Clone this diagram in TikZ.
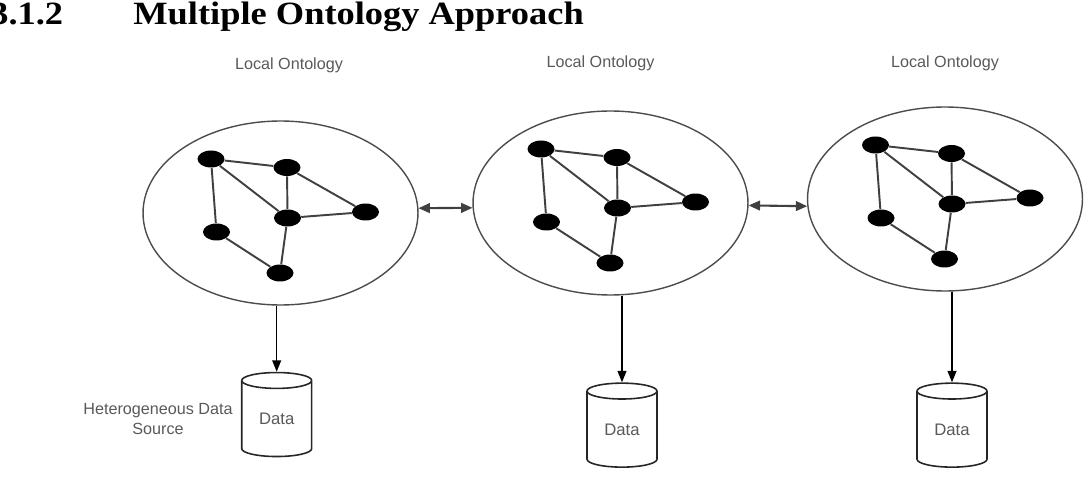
\documentclass[tikz,border=0pt]{standalone}
\usepackage{fontspec}
\setmainfont{Liberation Serif}
\setsansfont{Liberation Sans}
\usepackage{tikz}
\usetikzlibrary{arrows.meta,calc,positioning,shapes.geometric}

\begin{document}
\begin{tikzpicture}[x=0.02cm,y=-0.02cm,
  onto/.style={ellipse,draw=black!70,line width=0.8pt,minimum width=5.5cm,minimum height=3.68cm,inner sep=0pt},
  cnode/.style={ellipse,fill=black,minimum width=0.54cm,minimum height=0.34cm,inner sep=0pt},
  cedge/.style={draw=black!75,line width=1.1pt},
  dbase/.style={cylinder,shape border rotate=90,aspect=0.45,draw=black!85,line width=0.9pt,minimum width=1.4cm,minimum height=1.68cm,inner sep=0pt,font=\sffamily\fontsize{9.5}{11}\selectfont,text=black!65},
  lbl/.style={font=\sffamily\fontsize{9.2}{11.4}\selectfont,text=black!65,inner sep=0pt},
  head/.style={font=\bfseries\fontsize{18.5}{20}\selectfont,anchor=base west,inner sep=0pt},
  link/.style={draw=black,line width=0.9pt,-{Triangle[length=6.5pt,width=5pt]}},
  twoway/.style={draw=black!75,line width=1.2pt,{Triangle[length=6.5pt,width=5.5pt]}-{Triangle[length=6.5pt,width=5.5pt]}}]
  \useasboundingbox (0,0) rectangle (1089,486);
  \node[head] (secno) at (-10,25) {\scalebox{1.12}[1]{3.1.2}};
  \node[head] (sectitle) at (133,25) {\scalebox{1.12}[1]{Multiple Ontology Approach}};
  \foreach \i/\cx/\cy/\lx/\ly in {1/280.5/213/289/65, 2/610.5/203/600.5/63, 3/945/199/945/63} {
    \node[lbl] (lo\i) at (\lx,\ly) {Local Ontology};
    \node[onto] (o\i) at (\cx,\cy) {};
    \node[cnode] (c\i-a) at (\cx-69.5,\cy-54) {};
    \node[cnode] (c\i-b) at (\cx+6.5,\cy-45.5) {};
    \node[cnode] (c\i-c) at (\cx+7,\cy+5) {};
    \node[cnode] (c\i-d) at (\cx+85,\cy-1) {};
    \node[cnode] (c\i-e) at (\cx-64,\cy+19) {};
    \node[cnode] (c\i-f) at (\cx-0.5,\cy+60) {};
    \draw[cedge] (c\i-a) -- (c\i-b) (c\i-a) -- (c\i-c) (c\i-a) -- (c\i-e)
      (c\i-b) -- (c\i-c) (c\i-b) -- (c\i-d) (c\i-c) -- (c\i-d)
      (c\i-c) -- (c\i-f) (c\i-e) -- (c\i-f);
  }
  \node[dbase] (db1) at (276.7,418.9) {Data};
  \node[dbase] (db2) at (622,429.5) {Data};
  \node[dbase] (db3) at (952,429.5) {Data};
  \node[lbl,align=center,left=0.16cm of db1] (hds) {Heterogeneous Data\\Source};
  \draw[link] (o1.south -| db1.north) -- (db1.north);
  \draw[link] (o2.south -| db2.north) -- (db2.north);
  \draw[link] (o3.south -| db3.north) -- (db3.north);
  \draw[twoway] (o1.2.1) -- (o2.182.1);
  \draw[twoway] (o2.-1.5) -- (o3.183.2);
\end{tikzpicture}
\end{document}
